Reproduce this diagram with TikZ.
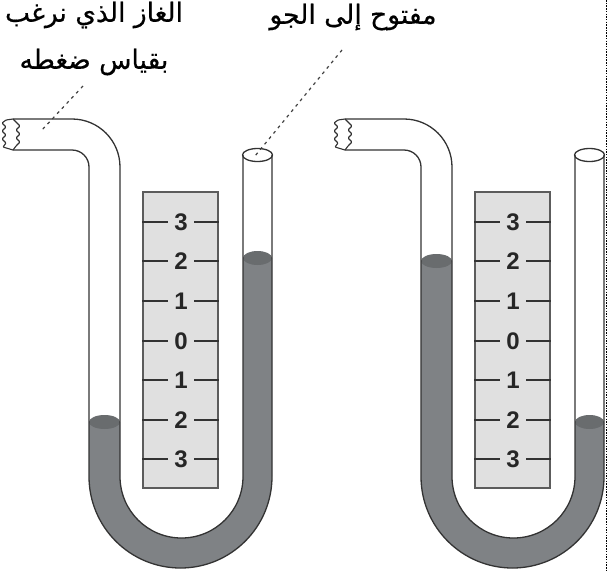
\documentclass[tikz,border=0pt]{standalone}
\usepackage{fontspec}
\setmainfont{Liberation Sans}
\newfontfamily\arabicfont[Script=Arabic,FakeBold=0.5]{DejaVu Sans}
\TeXXeTstate=1
\usepackage{tikz}
\usepackage{xcolor}
\usetikzlibrary{positioning}
\definecolor{fluidgray}{HTML}{7F8285}
\definecolor{surfacegray}{HTML}{696C6E}
\definecolor{scalegray}{HTML}{E0E0E0}
\definecolor{tubeline}{HTML}{333333}
\tikzset{
    tube/.style={draw=tubeline, line width=1.3pt},
    wiggle/.style={draw=tubeline, line width=1.1pt, rounded corners=0.8pt},
    scalebox/.style={draw=tubeline!80, fill=scalegray, line width=1.3pt, minimum width=75pt, minimum height=296pt, inner sep=0pt},
    digit/.style={font=\fontsize{24}{24}\selectfont\bfseries, text=black!85, inner sep=0pt, minimum width=26pt, minimum height=20pt},
    tick/.style={draw=tubeline, line width=1.3pt},
    leader/.style={draw=black!75, line width=1.2pt, dash pattern=on 3pt off 4pt},
    caption/.style={font=\fontsize{26.5}{30}\selectfont, inner sep=0pt}
}
\begin{document}
\begin{tikzpicture}[x=1pt, y=-1pt]
    \useasboundingbox (0,0) rectangle (607,571);

    % Two gauges: shift, left level, right level, end of the scale name
    \foreach \shiftx/\levelL/\levelR/\tag in {0/422/258/A, 332/261/422/B} {
        \begin{scope}[xshift=\shiftx pt]
            % Fluid
            \fill [fluidgray] (89,\levelL) -- (89,476.5) arc (180:0:91.5) -- (272,\levelR) -- (243,\levelR)
                -- (243,476.5) arc (0:180:61.5) -- (120,\levelL) -- cycle;
            \fill [surfacegray] (104.5,\levelL) ellipse (15.5 and 7);
            \fill [surfacegray] (257.5,\levelR) ellipse (14.5 and 7);

            % Tube
            \draw [tube] (13,119) -- (72,119) arc (-90:0:48) -- (120,476.5) arc (180:0:61.5) -- (243,155);
            \draw [tube] (13,150) -- (72,150) arc (-90:0:17) -- (89,476.5) arc (180:0:91.5) -- (272,155);
            \draw [tube] (257.5,155) ellipse (15 and 6.5);

            % Torn end
            \draw [wiggle] (13,119) -- (6,120) -- (2,123) -- (6,127) -- (2,131) -- (6,135) -- (2,139) -- (6,143) -- (3,147) -- (13,150);
            \draw [wiggle] (13,119) -- (16,122) -- (20,126) -- (16,130) -- (20,134) -- (16,138) -- (20,142) -- (16,146) -- (13,150);

            % Scale
            \node [scalebox] (scale\tag) at (180.5,340) {};
            \foreach \i/\lab/\ypos in {1/3/222, 2/2/261, 3/1/301, 4/0/341, 5/1/380, 6/2/420, 7/3/459} {
                \node [digit] (num\tag\i) at (181,\ypos) {\lab};
                \draw [tick] (scale\tag.west |- num\tag\i) -- (num\tag\i);
                \draw [tick] (num\tag\i) -- (scale\tag.east |- num\tag\i);
            }
        \end{scope}
    }

    % Labels
    \node [caption] (gasline) at (94,15) {\arabicfont\beginR الغاز الذي نرغب\endR};
    \node [caption] (gasword) at (94,62) {\arabicfont\beginR بقياس ضغطه\endR};
    \node [caption] (openair) at (353,17) {\arabicfont\beginR مفتوح إلى الجو\endR};

    % Leaders
    \coordinate (gasfrom) at (83,86);
    \coordinate (gasto) at (41,131);
    \coordinate (airfrom) at (342,50);
    \coordinate (airto) at (255,156);
    \draw [leader] (gasfrom) -- (gasto);
    \draw [leader] (airfrom) -- (airto);

    % Page edge
    \coordinate (edgetop) at (606,0);
    \coordinate (edgebottom) at (606,571);
    \draw [line width=0.7pt, dash pattern=on 1.5pt off 1.2pt] (edgetop) -- (edgebottom);
\end{tikzpicture}
\end{document}
